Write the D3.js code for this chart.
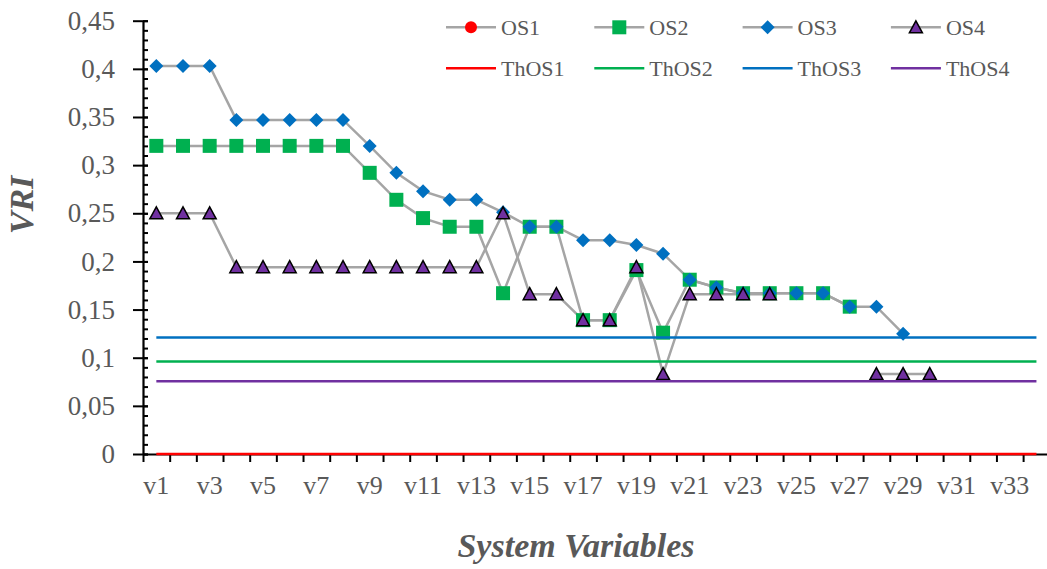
<!DOCTYPE html>
<meta charset="utf-8">
<style>
  body { margin: 0; background: #fff; }
  svg { display: block; font-family: "Liberation Serif", "Times New Roman", serif; }
  .lbl text { fill: #595959; }
</style>
<body>
<script src="https://d3js.org/d3.v7.min.js"></script>
<script>
// categories on the x axis
var categories = ["v1","v2","v3","v4","v5","v6","v7","v8","v9","v10","v11","v12","v13","v14","v15","v16","v17",
                  "v18","v19","v20","v21","v22","v23","v24","v25","v26","v27","v28","v29","v30","v31","v32","v33","v34"];
var xLabels = ["v1","v3","v5","v7","v9","v11","v13","v15","v17","v19","v21","v23","v25","v27","v29","v31","v33"];
var yTicks = [0, 0.05, 0.1, 0.15, 0.2, 0.25, 0.3, 0.35, 0.4, 0.45];

// series values (null = no point)
var os1 = [];
var os2 = [0.32,0.32,0.32,0.32,0.32,0.32,0.32,0.32,0.292,0.264,0.245,0.236,0.236,0.167,0.236,0.236,0.139,
           0.139,0.191,0.126,0.181,0.173,0.167,0.167,0.167,0.167,0.153];
var os3 = [0.403,0.403,0.403,0.347,0.347,0.347,0.347,0.347,0.32,0.292,0.273,0.264,0.264,0.251,0.236,0.236,0.222,
           0.222,0.217,0.208,0.181,0.173,0.167,0.167,0.167,0.167,0.153,0.153,0.125];
var os4 = [0.25,0.25,0.25,0.194,0.194,0.194,0.194,0.194,0.194,0.194,0.194,0.194,0.194,0.25,0.166,0.166,0.139,
           0.139,0.194,0.083,0.166,0.166,0.166,0.166,null,null,null,0.083,0.083,0.083];
var thNames = ["ThOS1","ThOS2","ThOS3","ThOS4"];
var thValues = [0, 0.096, 0.121, 0.0755];

var W = 1047, H = 569;
var svg = d3.select("body").append("svg").attr("width", W).attr("height", H);

var bandW = 26.67;
var x = d3.scaleBand().domain(categories).range([143, 143 + categories.length * bandW]).padding(0);
var xb = d3.scaleLinear().domain([0, categories.length]).range(x.range());
var y = d3.scaleLinear().domain([0, 0.45]).range([454, 20.7]);
var cx = function(c) { return x(c) + x.bandwidth() / 2; };

var fmt = function(d) { return d === 0 ? "0" : String(+d.toFixed(2)).replace(".", ","); };

// y axis: major ticks crossing, minor inside
svg.append("g").attr("transform", "translate(143,0)")
  .call(d3.axisRight(y).tickValues(d3.range(0, 0.4501, 0.01)).tickSize(5).tickFormat(""))
  .call(function(g) { g.select(".domain").remove(); g.selectAll("line").attr("stroke", "#000").attr("stroke-width", 2); });
svg.append("g").attr("class", "lbl").attr("transform", "translate(143,0)")
  .call(d3.axisLeft(y).tickValues(yTicks).tickSize(10).tickSizeOuter(0).tickPadding(18).tickFormat(fmt))
  .call(function(g) {
    g.attr("font-family", null).attr("font-size", null);
    g.select(".domain").attr("stroke", "#000").attr("stroke-width", 2.2);
    g.selectAll("line").attr("stroke", "#000").attr("stroke-width", 2).attr("x2", -10).attr("x1", 5);
    g.selectAll("text").style("font-size", "27px");
  });

// x axis
svg.append("g").attr("transform", "translate(0,454)")
  .call(d3.axisBottom(xb).tickValues(d3.range(0, categories.length + 1)).tickSize(8).tickSizeOuter(0).tickFormat(""))
  .call(function(g) {
    g.select(".domain").attr("stroke", "#000").attr("stroke-width", 2.2);
    g.selectAll("line").attr("stroke", "#000").attr("stroke-width", 2);
  });
svg.append("g").attr("class", "lbl").attr("transform", "translate(0,454)")
  .call(d3.axisBottom(x).tickValues(xLabels).tickSize(0).tickPadding(22))
  .call(function(g) {
    g.attr("font-family", null).attr("font-size", null);
    g.select(".domain").remove();
    g.selectAll("text").style("font-size", "26px");
  });

// axis titles
svg.append("text").attr("transform", "translate(33,205) rotate(-90)")
  .attr("text-anchor", "middle").attr("fill", "#595959")
  .style("font-size", "34px").style("font-weight", "bold").style("font-style", "italic")
  .text("VRI");
svg.append("text").attr("x", 576).attr("y", 557)
  .attr("text-anchor", "middle").attr("fill", "#595959")
  .style("font-size", "34px").style("font-weight", "bold").style("font-style", "italic")
  .text("System Variables");

// marker shapes
var diamond = { draw: function(ctx, s) { ctx.moveTo(0, -7); ctx.lineTo(7, 0); ctx.lineTo(0, 7); ctx.lineTo(-7, 0); ctx.closePath(); } };
var square = { draw: function(ctx, s) { ctx.rect(-7, -7, 14, 14); } };
var tri = { draw: function(ctx, s) { ctx.moveTo(0, -6.5); ctx.lineTo(6.5, 5.5); ctx.lineTo(-6.5, 5.5); ctx.closePath(); } };
var circle = { draw: function(ctx, s) { ctx.moveTo(6, 0); ctx.arc(0, 0, 6, 0, 2 * Math.PI); } };

var series = [
  { name: "OS1", values: os1, shape: circle, fill: "#ff0000", stroke: "none" },
  { name: "OS2", values: os2, shape: square, fill: "#00b050", stroke: "none" },
  { name: "OS3", values: os3, shape: diamond, fill: "#0070c0", stroke: "none" },
  { name: "OS4", values: os4, shape: tri, fill: "#7030a0", stroke: "#000" }
];
var thColors = ["#ff0000", "#00b050", "#0070c0", "#7030a0"];

var line = d3.line().defined(function(d) { return d.v != null; })
  .x(function(d) { return cx(d.c); }).y(function(d) { return y(d.v); });

series.forEach(function(s) {
  var pts = s.values.map(function(v, i) { return { c: categories[i], v: v }; });
  svg.append("path").datum(pts).attr("fill", "none").attr("stroke", "#a5a5a5").attr("stroke-width", 2.5)
    .attr("d", line);
});
series.forEach(function(s) {
  var pts = s.values.map(function(v, i) { return { c: categories[i], v: v }; }).filter(function(d) { return d.v != null; });
  svg.append("g").selectAll("path").data(pts).enter().append("path")
    .attr("d", d3.symbol().type(s.shape))
    .attr("transform", function(d) { return "translate(" + cx(d.c) + "," + y(d.v) + ")"; })
    .attr("fill", s.fill).attr("stroke", s.stroke).attr("stroke-width", 1.5);
});

// threshold lines
thValues.forEach(function(v, i) {
  svg.append("line")
    .attr("x1", cx(categories[0])).attr("x2", cx(categories[categories.length - 1]))
    .attr("y1", y(v)).attr("y2", y(v))
    .attr("stroke", thColors[i]).attr("stroke-width", 2.5);
});

// legend
var lg = svg.append("g");
series.forEach(function(s, i) {
  var lx = 446 + i * 148.3, ly = 27.3;
  lg.append("line").attr("x1", lx).attr("x2", lx + 50).attr("y1", ly).attr("y2", ly)
    .attr("stroke", "#a5a5a5").attr("stroke-width", 2.5);
  lg.append("path").attr("d", d3.symbol().type(s.shape))
    .attr("transform", "translate(" + (lx + 25) + "," + ly + ")")
    .attr("fill", s.fill).attr("stroke", s.stroke).attr("stroke-width", 1.5);
  lg.append("text").attr("x", lx + 55).attr("y", 35).attr("fill", "#595959")
    .style("font-size", "22px").text(s.name);
});
thNames.forEach(function(n, i) {
  var lx = 446 + i * 148.3, ly = 68.3;
  lg.append("line").attr("x1", lx).attr("x2", lx + 50).attr("y1", ly).attr("y2", ly)
    .attr("stroke", thColors[i]).attr("stroke-width", 2.5);
  lg.append("text").attr("x", lx + 55).attr("y", 76).attr("fill", "#595959")
    .style("font-size", "22px").text(n);
});
</script>
</body>
